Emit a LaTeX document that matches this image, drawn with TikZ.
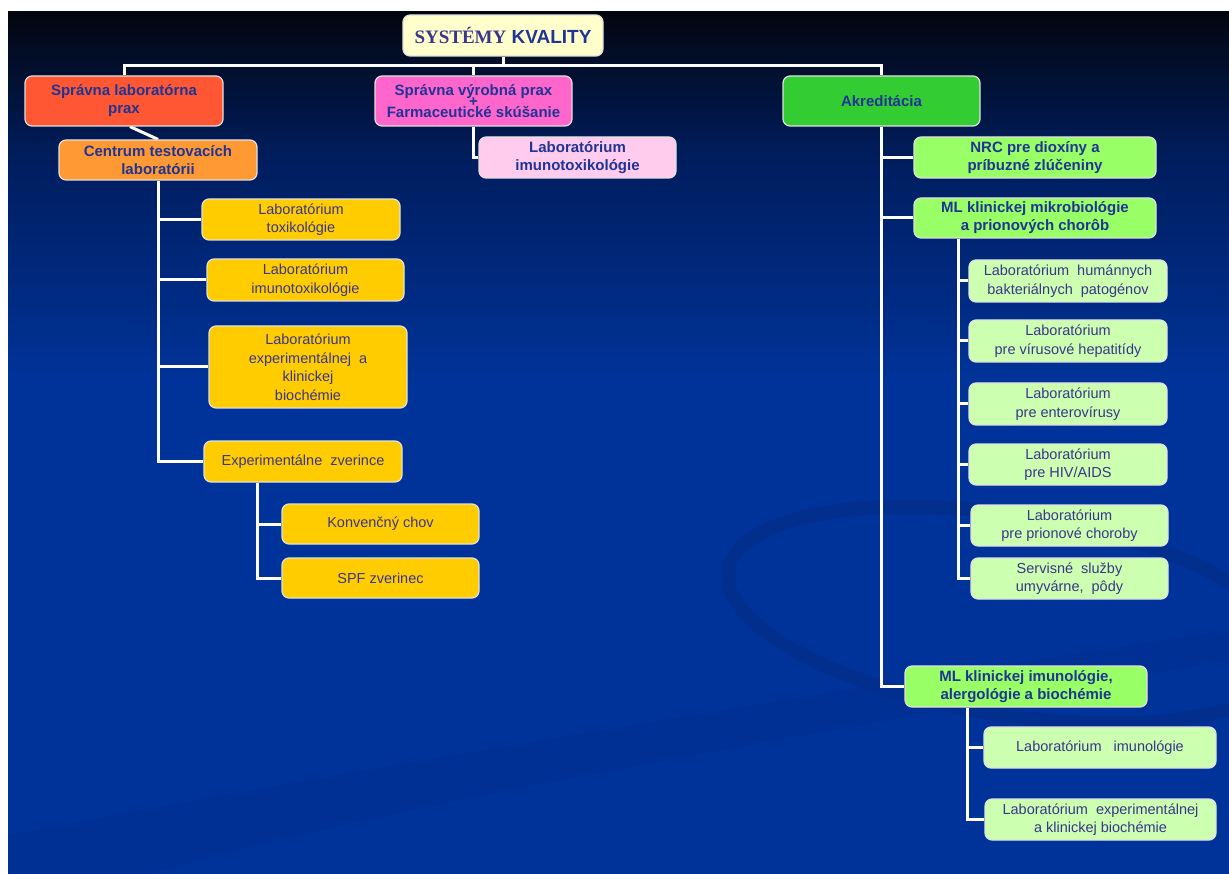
\documentclass[tikz,border=0pt]{standalone}
\usepackage{fontspec}
\setmainfont{Liberation Sans}
\newfontfamily\serifT{Liberation Serif}
\usetikzlibrary{calc}
\definecolor{bgblue}{HTML}{003399}
\definecolor{bgdark}{HTML}{03060F}
\definecolor{bgmid}{HTML}{001D5E}
\definecolor{ringc}{HTML}{022E8E}
\definecolor{txtb}{HTML}{1F3494}
\definecolor{txtr}{HTML}{3B358C}
\definecolor{ctitle}{HTML}{FFFFCC}
\definecolor{cred}{HTML}{FF5733}
\definecolor{cmag}{HTML}{FF66CC}
\definecolor{cgreen}{HTML}{33CC33}
\definecolor{corange}{HTML}{FF9933}
\definecolor{cpink}{HTML}{FFCCEE}
\definecolor{cyel}{HTML}{FFCC00}
\definecolor{clime}{HTML}{99FF66}
\definecolor{clgreen}{HTML}{CCFFB0}
\pgfdeclarelayer{bg}
\pgfdeclarelayer{lines}
\pgfsetlayers{bg,lines,main}
\tikzset{
  box/.style={rectangle, rounded corners=7pt, draw=white!88!black, line width=1.2pt,
    align=center, inner sep=0pt},
  boldbox/.style={box, font=\fontsize{15}{18}\selectfont\bfseries, text=txtb},
  regbox/.style={box, font=\fontsize{14.5}{18.5}\selectfont, text=txtr},
  conn/.style={draw=white, line width=3pt},
}
\begin{document}
\begin{tikzpicture}[x=1pt,y=-1pt]
\useasboundingbox (0,0) rectangle (1229,874);
\begin{pgfonlayer}{bg}
  \fill[white] (0,0) rectangle (1229,874);
  \fill[bgblue] (8,380) rectangle (1229,874);
  \shade[top color=bgdark, bottom color=bgmid] (8,12) rectangle (1229,160);
  \shade[top color=bgmid, bottom color=bgblue] (8,159.5) rectangle (1229,380.5);
  \draw[ringc, line width=14pt, rotate around={-9:(1010,615)}] (1010,615) ellipse [x radius=285, y radius=100];
  \fill[ringc, opacity=0.45] (8,874) -- (8,835) .. controls (400,760) and (900,680) .. (1229,630) -- (1229,660) .. controls (900,720) and (400,800) .. (150,874) -- cycle;
\end{pgfonlayer}

% nodes
\node[box, fill=ctitle, minimum width=200pt, minimum height=41pt] (title) at (503,35.5)
  {\fontsize{19}{22}\selectfont\bfseries\textcolor{txtr}{\serifT SYSTÉMY} \textcolor{txtb}{KVALITY}};
\node[boldbox, fill=cred, minimum width=198pt, minimum height=50pt] (slp) at (124,101)
  {Správna laboratórna\\prax};
\node[boldbox, fill=cmag, minimum width=197pt, minimum height=50pt] (svp) at (473.5,101)
  {Správna výrobná prax\\[-7pt]+\\[-7pt]Farmaceutické skúšanie};
\node[boldbox, fill=cgreen, minimum width=197pt, minimum height=50pt] (akr) at (881.5,101)
  {Akreditácia};
\node[boldbox, fill=corange, minimum width=198pt, minimum height=40pt] (ctl) at (158,160)
  {Centrum testovacích\\laboratórii};
\node[boldbox, fill=cpink, minimum width=197pt, minimum height=41pt] (imt) at (577.5,157.5)
  {Laboratórium\\imunotoxikológie};
\node[regbox, fill=cyel, minimum width=198pt, minimum height=41pt] (tox) at (301,219.5)
  {Laboratórium\\toxikológie};
\node[regbox, fill=cyel, minimum width=197pt, minimum height=42pt] (imu) at (305.5,280)
  {Laboratórium\\imunotoxikológie};
\node[regbox, fill=cyel, minimum width=198pt, minimum height=82pt] (bio) at (308,367)
  {Laboratórium\\experimentálnej\ \ a\\klinickej\\biochémie};
\node[regbox, fill=cyel, minimum width=198pt, minimum height=41pt] (zve) at (303,461.5)
  {Experimentálne\ \ zverince};
\node[regbox, fill=cyel, minimum width=197pt, minimum height=40pt] (kon) at (380.5,524)
  {Konvenčný chov};
\node[regbox, fill=cyel, minimum width=197pt, minimum height=40pt] (spf) at (380.5,578)
  {SPF zverinec};
\node[boldbox, fill=clime, minimum width=242pt, minimum height=41pt] (nrc) at (1035,157.5)
  {NRC pre dioxíny a\\príbuzné zlúčeniny};
\node[boldbox, fill=clime, minimum width=242pt, minimum height=40pt] (mlm) at (1035,218)
  {ML klinickej mikrobiológie\\a prionových chorôb};
\node[regbox, fill=clgreen, minimum width=198pt, minimum height=42pt] (hum) at (1068,281)
  {Laboratórium\ \ humánnych\\bakteriálnych\ \ patogénov};
\node[regbox, fill=clgreen, minimum width=198pt, minimum height=42pt] (hep) at (1068,341)
  {Laboratórium\\pre vírusové hepatitídy};
\node[regbox, fill=clgreen, minimum width=198pt, minimum height=42pt] (ent) at (1068,404)
  {Laboratórium\\pre enterovírusy};
\node[regbox, fill=clgreen, minimum width=198pt, minimum height=41pt] (hiv) at (1068,464.5)
  {Laboratórium\\pre HIV/AIDS};
\node[regbox, fill=clgreen, minimum width=197pt, minimum height=41pt] (pri) at (1069.5,525.5)
  {Laboratórium\\pre prionové choroby};
\node[regbox, fill=clgreen, minimum width=197pt, minimum height=41pt] (ser) at (1069.5,578.5)
  {Servisné\ \ služby\\umyvárne,\ \ pôdy};
\node[boldbox, fill=clime, minimum width=242pt, minimum height=41pt] (mli) at (1026,686.5)
  {ML klinickej imunológie,\\alergológie a biochémie};
\node[regbox, fill=clgreen, minimum width=232pt, minimum height=41pt] (lim) at (1100,747.5)
  {Laboratórium\ \ \ imunológie};
\node[regbox, fill=clgreen, minimum width=231pt, minimum height=41pt] (lbc) at (1100.5,819.5)
  {Laboratórium\ \ experimentálnej\\a klinickej biochémie};

\coordinate (busY) at (0,66);
\begin{pgfonlayer}{lines}
  \draw[conn] (title.south) -- (title.south |- busY) -| (slp.north);
  \draw[conn] (title.south |- busY) -| (svp.north);
  \draw[conn] (title.south |- busY) -| (akr.north);
  \draw[conn] ([xshift=6pt]slp.south) -- (ctl.north);
  \draw[conn] (svp.south) |- (imt.west);
  \draw[conn] (ctl.south) |- (tox.west);
  \draw[conn] (ctl.south) |- (imu.west);
  \draw[conn] (ctl.south) |- (bio.west);
  \draw[conn] (ctl.south) |- (zve.west);
  \draw[conn] ([xshift=-46pt]zve.south) |- (kon.west);
  \draw[conn] ([xshift=-46pt]zve.south) |- (spf.west);
  \draw[conn] (akr.south) |- (nrc.west);
  \draw[conn] (akr.south) |- (mlm.west);
  \draw[conn] (akr.south) |- (mli.west);
  \draw[conn] ([xshift=-77pt]mlm.south) |- (hum.west);
  \draw[conn] ([xshift=-77pt]mlm.south) |- (hep.west);
  \draw[conn] ([xshift=-77pt]mlm.south) |- (ent.west);
  \draw[conn] ([xshift=-77pt]mlm.south) |- (hiv.west);
  \draw[conn] ([xshift=-77pt]mlm.south) |- (pri.west);
  \draw[conn] ([xshift=-77pt]mlm.south) |- (ser.west);
  \draw[conn] ([xshift=-59pt]mli.south) |- (lim.west);
  \draw[conn] ([xshift=-59pt]mli.south) |- (lbc.west);
\end{pgfonlayer}
\end{tikzpicture}
\end{document}
